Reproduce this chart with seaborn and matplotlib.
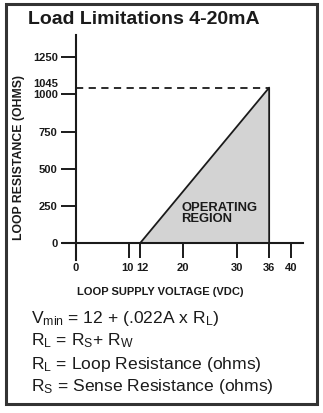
import matplotlib
matplotlib.use("Agg")
import matplotlib.pyplot as plt
import matplotlib.patches as mpatches
import matplotlib.transforms as mtransforms
import seaborn as sns
import pandas as pd

# Operating envelope of the 4-20 mA loop
supply_voltage = [12, 36, 36]          # VDC
loop_resistance = [0, 1045, 0]         # ohms
max_resistance = 1045
x_ticks = [0, 10, 12, 20, 30, 36, 40]
y_ticks = [0, 250, 500, 750, 1000, 1250]

sns.set_theme(style="white")
plt.rcParams["font.family"] = ["Liberation Sans", "DejaVu Sans"]
plt.rcParams["mathtext.default"] = "regular"

fig = plt.figure(figsize=(3.23, 4.13), dpi=100)
W, H = 323, 413
ax = fig.add_axes([63 / W, 1 - 260 / H, 240 / W, 225 / H])

env = pd.DataFrame({"voltage": supply_voltage, "resistance": loop_resistance})

ax.fill_between(supply_voltage[:2], [0, 0], loop_resistance[:2],
                color="#d3d3d3", zorder=1, linewidth=0)
sns.lineplot(data=env, x="voltage", y="resistance", sort=False, estimator=None,
             color="#1a1a1a", linewidth=1.3, ax=ax, zorder=3)
sns.lineplot(x=[0, supply_voltage[1]], y=[max_resistance, max_resistance],
             estimator=None, color="#1a1a1a", linewidth=1.3,
             linestyle=(0, (4, 3)), ax=ax, zorder=3)

ax.set_xlim(-2.37, 42.3)
ax.set_ylim(-114, 1399)

for side in ("top", "right"):
    ax.spines[side].set_visible(False)
for side in ("left", "bottom"):
    ax.spines[side].set_position(("data", 0))
    ax.spines[side].set_color("#1a1a1a")
    ax.spines[side].set_linewidth(1.5)

ax.set_xticks(x_ticks)
ax.set_xticklabels([str(v) for v in x_ticks])
ax.set_yticks(y_ticks)
ax.set_yticklabels([str(v) for v in y_ticks])
ax.set_yticks([max_resistance], minor=True)
ax.set_yticklabels([str(max_resistance)], minor=True)

ax.tick_params(axis="both", which="major", direction="out", length=10.5, width=1.4,
               color="#1a1a1a", labelsize=8, labelcolor="#1a1a1a",
               bottom=True, left=True)
ax.tick_params(axis="x", which="major", pad=4)
ax.tick_params(axis="y", which="major", pad=2.5)
ax.tick_params(axis="y", which="minor", length=0, pad=13, labelsize=8,
               labelcolor="#1a1a1a", left=True)
ax.tick_params(axis="x", which="minor", length=0)
for lab in ax.get_xticklabels() + ax.get_yticklabels() + ax.get_yticklabels(minor=True):
    lab.set_fontweight("bold")

# lift the 1045 label clear of the 1000 label
lift = mtransforms.ScaledTranslation(0, 4.5 / 100, fig.dpi_scale_trans)
for lab in ax.get_yticklabels(minor=True):
    lab.set_transform(lab.get_transform() + lift)

# nudge the crowded 10 / 12 labels apart
nudge = {"10": -2.0, "12": 2.0}
for lab in ax.get_xticklabels():
    dx = nudge.get(lab.get_text())
    if dx:
        lab.set_transform(lab.get_transform()
                          + mtransforms.ScaledTranslation(dx / 100, 0, fig.dpi_scale_trans))

ax.set_xlabel("")
ax.set_ylabel("")
fig.text(160 / W, 1 - 292 / H, "LOOP SUPPLY VOLTAGE (VDC)", ha="center", va="center",
         fontsize=8.0, fontweight="bold", color="#1a1a1a")
fig.text(19 / W, 1 - 158 / H, "LOOP RESISTANCE (OHMS)", ha="center", va="center",
         rotation=90, fontsize=8.8, fontweight="bold", color="#1a1a1a")

ax.text(19.6, 198, "OPERATING\nREGION", ha="left", va="center", fontsize=9.4,
        fontweight="bold", color="#1a1a1a", linespacing=0.95, zorder=4)

fig.text(28 / W, 1 - 20 / H, "Load Limitations 4-20mA", ha="left", va="center",
         fontsize=14, fontweight="bold", color="#1a1a1a")

formula_lines = [
    r"V$_{min}$ = 12 + (.022A x R$_{L}$)",
    r"R$_{L}$ = R$_{S}$+ R$_{W}$",
    r"R$_{L}$ = Loop Resistance (ohms)",
    r"R$_{S}$ = Sense Resistance (ohms)",
]
for i, line in enumerate(formula_lines):
    fig.text(31 / W, 1 - (318 + i * 23) / H, line, ha="left", va="center",
             fontsize=12.6, color="#1a1a1a")

fig.patches.append(mpatches.Rectangle((6 / W, 1 - 404 / H), 311 / W, 400 / H,
                                      transform=fig.transFigure, fill=False,
                                      edgecolor="#333333", linewidth=2.2))

fig.savefig("out.png", dpi=100)
